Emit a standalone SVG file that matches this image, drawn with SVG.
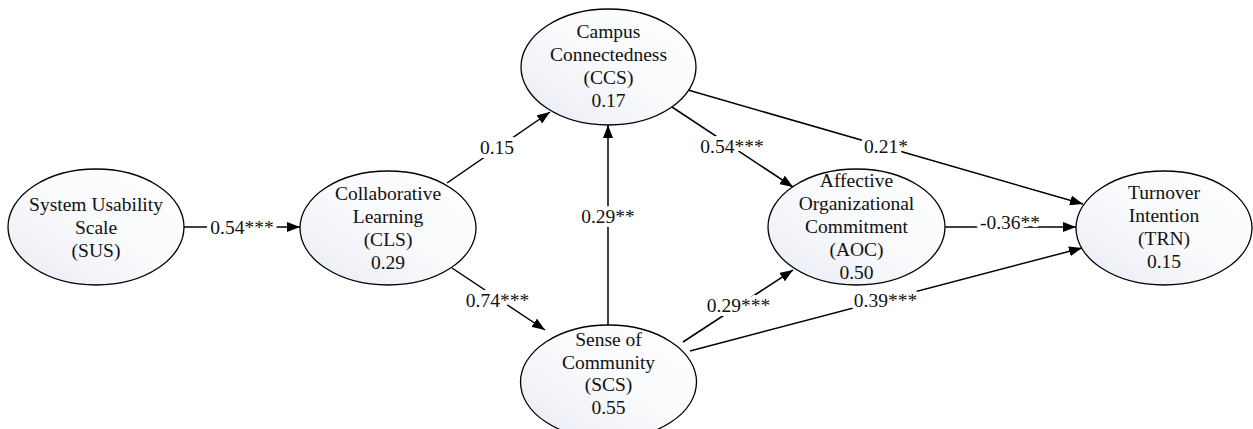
<svg xmlns="http://www.w3.org/2000/svg" width="1253" height="429" viewBox="0 0 1253 429">
<style>
.node ellipse{fill:url(#g);stroke:#000;stroke-width:1.3}
.node text{font-family:"Liberation Serif","Times New Roman",serif;font-size:19.5px;fill:#111;text-anchor:middle}
.edge line{stroke:#000;stroke-width:1.5;marker-end:url(#arr)}
.lbl{font-family:"Liberation Serif","Times New Roman",serif;font-size:19.5px;fill:#111;text-anchor:middle;stroke:#fff;stroke-width:8;paint-order:stroke;stroke-linejoin:round}
</style>
<defs>
<linearGradient id="g" x1="1" y1="0" x2="0" y2="1">
<stop offset="0" stop-color="#ffffff"/>
<stop offset="0.5" stop-color="#f9fafc"/>
<stop offset="1" stop-color="#e8ebf4"/>
</linearGradient>
<marker id="arr" markerUnits="userSpaceOnUse" markerWidth="14" markerHeight="10" refX="13" refY="5" orient="auto">
<path d="M0,0 L13,5 L0,10 z" fill="#000"/>
</marker>
</defs>
<rect width="1253" height="429" fill="#fff"/>
<g id="connectors" class="edge">
<line x1="184" y1="227" x2="300" y2="227"/>
<line x1="447" y1="183" x2="550" y2="112"/>
<line x1="452" y1="268" x2="545" y2="330"/>
<line x1="608" y1="325" x2="608" y2="125"/>
<line x1="672" y1="107" x2="793" y2="187"/>
<line x1="688" y1="90" x2="1083" y2="204"/>
<line x1="945" y1="227" x2="1076" y2="227"/>
<line x1="683" y1="342" x2="793" y2="270"/>
<line x1="690" y1="351" x2="1082" y2="248"/>
<text class="lbl" x="242" y="234">0.54***</text>
<text class="lbl" x="497" y="154">0.15</text>
<text class="lbl" x="497.5" y="307">0.74***</text>
<text class="lbl" x="608" y="223">0.29**</text>
<text class="lbl" x="732" y="153">0.54***</text>
<text class="lbl" x="886" y="153">0.21*</text>
<text class="lbl" x="1010" y="229">-0.36**</text>
<text class="lbl" x="738.5" y="312">0.29***</text>
<text class="lbl" x="885.5" y="307">0.39***</text>
</g>
<g id="SUS" class="node">
<ellipse cx="96" cy="227" rx="88" ry="58"/>
<text x="96" y="211">System Usability</text>
<text x="96" y="234">Scale</text>
<text x="96" y="257">(SUS)</text>
</g>
<g id="CLS" class="node">
<ellipse cx="388" cy="228" rx="88" ry="57"/>
<text x="388" y="200">Collaborative</text>
<text x="388" y="223">Learning</text>
<text x="388" y="246">(CLS)</text>
<text x="388" y="269">0.29</text>
</g>
<g id="CCS" class="node">
<ellipse cx="608.5" cy="67" rx="87.5" ry="58"/>
<text x="608.5" y="38">Campus</text>
<text x="608.5" y="61">Connectedness</text>
<text x="608.5" y="84">(CCS)</text>
<text x="608.5" y="107">0.17</text>
</g>
<g id="SCS" class="node">
<ellipse cx="608.5" cy="382" rx="88" ry="57"/>
<text x="608.5" y="346">Sense of</text>
<text x="608.5" y="368.5">Community</text>
<text x="608.5" y="391">(SCS)</text>
<text x="608.5" y="413.5">0.55</text>
</g>
<g id="AOC" class="node">
<ellipse cx="856.5" cy="227" rx="88.5" ry="58"/>
<text x="856.5" y="187">Affective</text>
<text x="856.5" y="210">Organizational</text>
<text x="856.5" y="233">Commitment</text>
<text x="856.5" y="256">(AOC)</text>
<text x="856.5" y="279">0.50</text>
</g>
<g id="TRN" class="node">
<ellipse cx="1164" cy="228" rx="88" ry="57"/>
<text x="1164" y="199">Turnover</text>
<text x="1164" y="222">Intention</text>
<text x="1164" y="245">(TRN)</text>
<text x="1164" y="268">0.15</text>
</g>
</svg>
